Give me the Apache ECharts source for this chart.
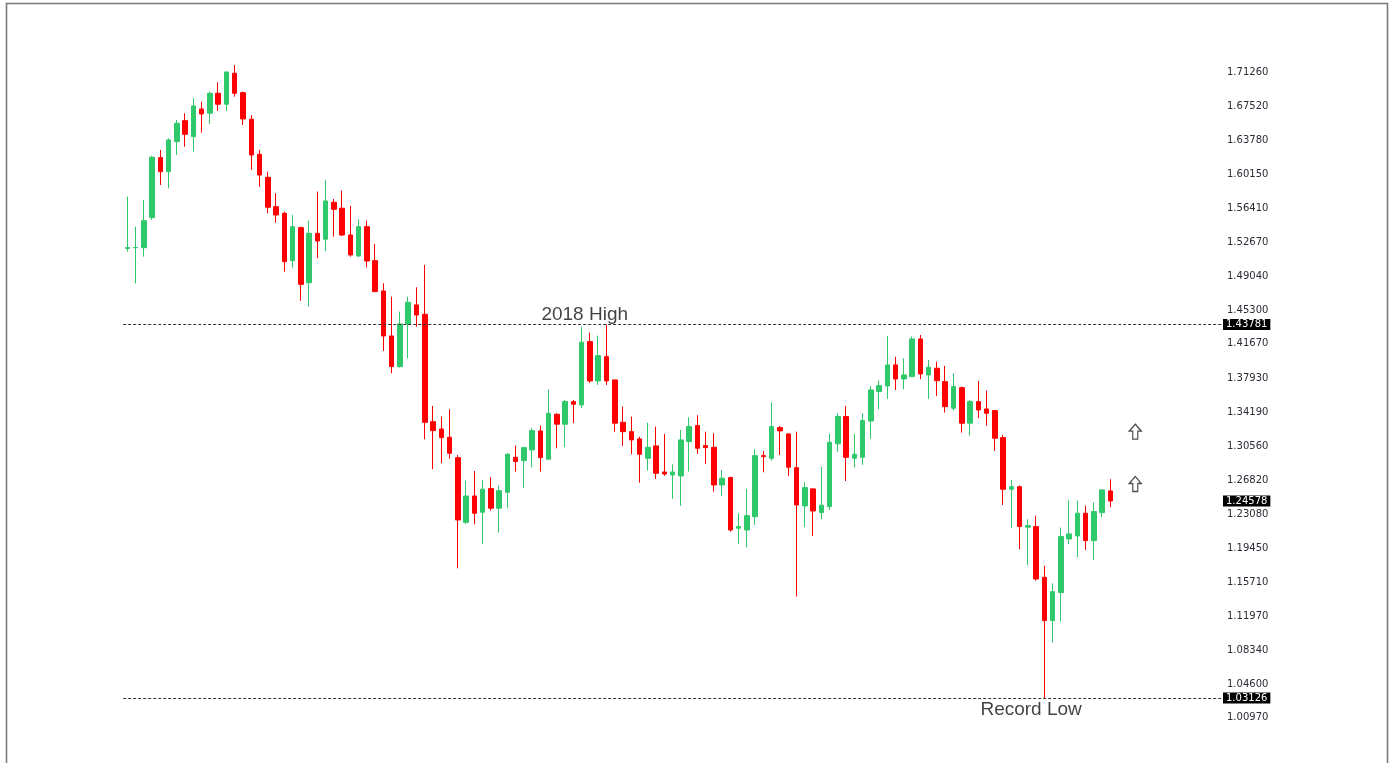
<!DOCTYPE html>
<html>
<head>
<meta charset="utf-8">
<script src="https://cdn.jsdelivr.net/npm/echarts@6/dist/echarts.min.js"></script>
<style>
html,body{margin:0;padding:0;background:#fff;}
#chart{width:1394px;height:763px;}
</style>
</head>
<body>
<div id="chart"></div>
<script>
// ---- data ----
const opens = [1.5205,1.5214,1.5214,1.5541,1.6194,1.6041,1.6368,1.6596,1.6422,1.6723,
1.6677,1.6894,1.6775,1.7112,1.6901,1.6611,1.6230,1.5980,1.5660,1.5588,
1.5073,1.5432,1.4833,1.5370,1.5306,1.5708,1.5643,1.5352,1.5124,1.5443,
1.5073,1.4743,1.4253,1.3920,1.4384,1.4591,1.4489,1.3321,1.3241,1.3151,
1.2929,1.2225,1.2512,1.2335,1.2592,1.2379,1.2553,1.2933,1.2897,1.3013,
1.3220,1.2912,1.3401,1.3293,1.3539,1.3503,1.4192,1.3764,1.4028,1.3775,
1.3314,1.3212,1.3133,1.2922,1.3057,1.2773,1.2741,1.2730,1.3104,1.3278,
1.3060,1.3042,1.2632,1.2712,1.2161,1.2142,1.2287,1.2951,1.2922,1.3256,
1.3187,1.2820,1.2404,1.2589,1.2331,1.2397,1.3079,1.3376,1.2922,1.2933,
1.3328,1.3648,1.3709,1.3938,1.3785,1.3811,1.4221,1.3829,1.3902,1.3756,
1.3467,1.3691,1.3304,1.3539,1.3459,1.3441,1.3147,1.2585,1.2613,1.2172,
1.2179,1.1627,1.1156,1.1461,1.2044,1.2077,1.2324,1.2026,1.2331,1.2567];
const closes = [1.5215,1.5216,1.5508,1.6198,1.6041,1.6386,1.6568,1.6448,1.6756,1.6669,
1.6894,1.6775,1.7126,1.6894,1.6615,1.6223,1.6005,1.5654,1.5570,1.5062,
1.5443,1.4815,1.5370,1.5287,1.5722,1.5632,1.5352,1.5135,1.5443,1.5069,
1.4736,1.4253,1.3920,1.4384,1.4620,1.4482,1.3314,1.3223,1.3147,1.2977,
1.2251,1.2512,1.2324,1.2585,1.2379,1.2570,1.2966,1.2886,1.3038,1.3223,
1.2929,1.3412,1.3293,1.3539,1.3510,1.4185,1.3764,1.4039,1.3764,1.3304,
1.3212,1.3122,1.2966,1.3042,1.2759,1.2751,1.2773,1.3122,1.3267,1.3031,
1.3038,1.2632,1.2705,1.2142,1.2179,1.2298,1.2951,1.2940,1.3267,1.3220,
1.2825,1.2414,1.2603,1.2349,1.2411,1.3097,1.3376,1.2933,1.2966,1.3332,
1.3666,1.3713,1.3938,1.3785,1.3829,1.4221,1.3840,1.3913,1.3767,1.3484,
1.3702,1.3304,1.3539,1.3448,1.3412,1.3140,1.2585,1.2613,1.2179,1.2189,
1.1609,1.1156,1.1471,1.2070,1.2099,1.2324,1.2026,1.2342,1.2578,1.24578];
const lows = [1.5171,1.4826,1.5116,1.5516,1.5896,1.5860,1.6223,1.6313,1.6259,1.6466,
1.6560,1.6702,1.6702,1.6857,1.6549,1.6060,1.5878,1.5588,1.5486,1.4953,
1.4997,1.4637,1.4572,1.5099,1.5178,1.5334,1.5341,1.5116,1.5110,1.4999,
1.4729,1.4090,1.3847,1.3909,1.4011,1.4354,1.3129,1.2803,1.2868,1.2918,
1.1725,1.2208,1.2204,1.1987,1.2353,1.2113,1.2379,1.2777,1.2598,1.2825,
1.2777,1.2912,1.3031,1.3042,1.3304,1.3467,1.3742,1.3720,1.3720,1.3212,
1.3057,1.2966,1.2657,1.2788,1.2697,1.2730,1.2480,1.2403,1.2777,1.2970,
1.2861,1.2559,1.2512,1.2124,1.1990,1.1953,1.2197,1.2770,1.2896,1.2958,
1.2730,1.1417,1.2172,1.2077,1.2259,1.2360,1.2994,1.2675,1.2825,1.2850,
1.3133,1.3456,1.3568,1.3666,1.3673,1.3804,1.3782,1.3568,1.3601,1.3419,
1.3441,1.3201,1.3169,1.3358,1.3277,1.3002,1.2414,1.2161,1.1932,1.1761,
1.1591,1.03126,1.0916,1.1145,1.1987,1.1845,1.1925,1.1816,1.2280,1.2389];
const highs = [1.5769,1.5443,1.5733,1.6212,1.6277,1.6404,1.6604,1.6677,1.6840,1.6803,
1.6912,1.7014,1.7126,1.7202,1.6912,1.6658,1.6277,1.6041,1.5806,1.5606,
1.5570,1.5443,1.5508,1.5824,1.5951,1.5744,1.5835,1.5668,1.5523,1.5508,
1.5254,1.4826,1.4681,1.4518,1.4681,1.4783,1.5026,1.3492,1.3376,1.3456,
1.2958,1.2679,1.2784,1.2686,1.2716,1.2625,1.2977,1.3060,1.3049,1.3249,
1.3278,1.3673,1.3412,1.3557,1.3557,1.4355,1.4289,1.4257,1.43781,1.3775,
1.3484,1.3376,1.3158,1.3310,1.3267,1.3187,1.2857,1.3230,1.3369,1.3391,
1.3212,1.3195,1.2795,1.2722,1.2324,1.2589,1.3020,1.3002,1.3528,1.3274,
1.3195,1.3212,1.2661,1.2596,1.2831,1.3187,1.3412,1.3492,1.3187,1.3412,
1.3709,1.3767,1.4253,1.4028,1.4010,1.4246,1.4264,1.3992,1.3974,1.3927,
1.3847,1.3702,1.3557,1.3764,1.3658,1.3448,1.3176,1.2686,1.2625,1.2259,
1.2298,1.1751,1.1562,1.2168,1.2469,1.2462,1.2407,1.2444,1.2585,1.2694];
const emptySlots = 13;   // blank space to the right of the last candle
const tickLabels = ['1.71260','1.67520','1.63780','1.60150','1.56410','1.52670','1.49040','1.45300',
  '1.41670','1.37930','1.34190','1.30560','1.26820','1.23080','1.19450','1.15710','1.11970',
  '1.08340','1.04600','1.00970'];
const high2018 = 1.43781;
const recordLow = 1.03126;
const lastPrice = 1.24578;
const annotationLabels = ['2018 High', 'Record Low'];
const annotationSlots = [55, 110];
const arrowSlot = 122;
const arrowValues = [1.3212, 1.2643];

// ---- build ----
const total = opens.length + emptySlots;
const categories = Array.from({length: total}, (_, i) => String(i + 1));
const ohlc = opens.map((o, i) => [o, closes[i], lows[i], highs[i]]);
const GREEN = '#2fc86a', RED = '#ff0000';
const labelFont = 'Tahoma, "DejaVu Sans", "Liberation Sans", sans-serif';

const chart = echarts.init(document.getElementById('chart'), null, {renderer: 'canvas'});
chart.setOption({
  animation: false,
  backgroundColor: '#ffffff',
  grid: {left: 123.2, right: 172, top: 37.6, bottom: 27},
  xAxis: {
    type: 'category', data: categories, boundaryGap: true,
    show: false
  },
  yAxis: {
    type: 'value', position: 'right', min: 0.99, max: 1.75, scale: true,
    axisLine: {show: false}, axisTick: {show: false}, splitLine: {show: false},
    axisLabel: {
      customValues: tickLabels.map(Number),
      formatter: v => v.toFixed(5),
      margin: 5, color: '#2b2b36', fontSize: 10, fontFamily: labelFont
    }
  },
  graphic: [{
    type: 'rect', silent: true,
    shape: {x: 6.5, y: 3.5, width: 1381, height: 820},
    style: {fill: 'none', stroke: '#7a7a7a', lineWidth: 1.6}
  }],
  series: [
    {
      type: 'candlestick', name: 'Price', data: ohlc, barWidth: 5,
      itemStyle: {color: GREEN, color0: RED, borderColor: GREEN, borderColor0: RED, borderWidth: 1},
      markLine: {
        silent: true, symbol: 'none', animation: false, precision: 5,
        lineStyle: {color: '#333', type: [3, 2], width: 1},
        label: {
          position: 'end', distance: 1, formatter: p => Number(p.value).toFixed(5),
          backgroundColor: '#000', color: '#fff', fontSize: 10, fontFamily: labelFont,
          padding: [1, 3, 0, 3]
        },
        data: [
          {yAxis: high2018},
          {yAxis: recordLow},
          {yAxis: lastPrice, lineStyle: {color: 'rgba(0,0,0,0)', width: 1, type: 'solid'}}
        ]
      }
    },
    {
      type: 'scatter', name: 'Annotations', symbolSize: 0, silent: true,
      data: [
        {value: [annotationSlots[0], high2018], label: {position: 'top', distance: 0, offset: [3, 0]}},
        {value: [annotationSlots[1], recordLow], label: {position: 'bottom', distance: 2, offset: [-5, 0]}}
      ],
      label: {
        show: true, color: '#111111', fontSize: 19,
        fontFamily: '"Liberation Sans", Arial, sans-serif',
        formatter: p => annotationLabels[p.dataIndex]
      }
    },
    {
      type: 'scatter', name: 'Arrows', silent: true,
      symbol: 'path://M6,0 L12,7 L8.5,7 L8.5,15 L3.5,15 L3.5,7 L0,7 Z',
      symbolSize: [12, 15],
      itemStyle: {color: '#ffffff', borderColor: '#222', borderWidth: 1.3},
      data: arrowValues.map(v => [arrowSlot, v])
    }
  ]
});
</script>
</body>
</html>
